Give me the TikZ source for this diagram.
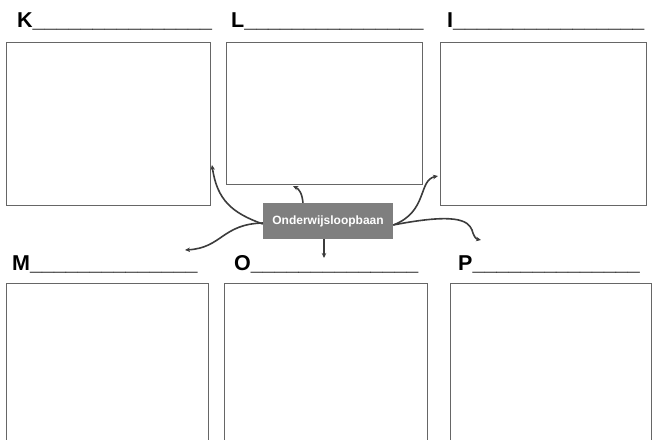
\documentclass[tikz,border=0pt]{standalone}
\usepackage{fontspec}
\setmainfont{Liberation Sans}
\usetikzlibrary{arrows.meta}

\definecolor{boxline}{HTML}{666666}
\definecolor{arrowline}{HTML}{3C3C3C}
\definecolor{centerfill}{HTML}{7F7F7F}

\begin{document}
\begin{tikzpicture}[
		x=1pt, y=-1pt
		,panel/.style={draw=boxline, line width=1.2pt, rectangle, anchor=north west, inner sep=0pt}
		,lbl/.style={anchor=base west, inner sep=0pt, font=\fontsize{21.5}{24}\selectfont\bfseries}
		,hub/.style={fill=centerfill, text=white, minimum width=130pt, minimum height=36pt, inner sep=0pt, font=\fontsize{12}{14}\selectfont\bfseries}
		,arr/.style={draw=arrowline, line width=1.6pt, -{Stealth[length=5pt, width=4.5pt]}}
	]
	\useasboundingbox (0,0) rectangle (652,439);
	\clip (0,0) rectangle (652,439);

	% top row
	\node [lbl] (klbl) at (17,27) {K\_\_\_\_\_\_\_\_\_\_\_\_\_\_\_};
	\node [lbl] (llbl) at (231,27) {L\_\_\_\_\_\_\_\_\_\_\_\_\_\_\_};
	\node [lbl] (ilbl) at (447,27) {I\_\_\_\_\_\_\_\_\_\_\_\_\_\_\_\_};
	\node [panel, minimum width=204pt, minimum height=163pt] (kbox) at (6,42) {};
	\node [panel, minimum width=196pt, minimum height=142pt] (lbox) at (226,42) {};
	\node [panel, minimum width=206pt, minimum height=163pt] (ibox) at (440,42) {};

	% bottom row
	\node [lbl] (mlbl) at (12,270) {M\_\_\_\_\_\_\_\_\_\_\_\_\_\_};
	\node [lbl] (olbl) at (234,270) {O\_\_\_\_\_\_\_\_\_\_\_\_\_\_};
	\node [lbl] (plbl) at (458,270) {P\_\_\_\_\_\_\_\_\_\_\_\_\_\_};
	\node [panel, minimum width=202pt, minimum height=170pt] (mbox) at (6,283) {};
	\node [panel, minimum width=203pt, minimum height=170pt] (obox) at (224,283) {};
	\node [panel, minimum width=201pt, minimum height=170pt] (pbox) at (450,283) {};

	% centre
	\node [hub] (hub) at (328,221) {Onderwijsloopbaan};

	\coordinate (kin) at (212,165);
	\coordinate (lin) at (293,186);
	\coordinate (iin) at (438,176);
	\coordinate (min) at (185,250);
	\coordinate (oin) at (324,258);
	\coordinate (pin) at (481,240);

	\draw [arr] ([yshift=-3pt]hub.west) .. controls (232,213) and (217,200) .. (kin);
	\draw [arr] ([xshift=-25pt]hub.north) .. controls (302,193) and (299,189) .. (lin);
	\draw [arr] ([yshift=-4pt]hub.east) .. controls (428,212) and (418,180) .. (iin);
	\draw [arr] ([yshift=-2pt]hub.west) .. controls (222,224) and (222,248) .. (min);
	\draw [arr] ([xshift=-4pt]hub.south) -- (oin);
	\draw [arr] ([yshift=-4pt]hub.east) .. controls (455,213) and (468,220) .. (472,230)
		.. controls (474,237) and (476,239) .. (pin);
\end{tikzpicture}
\end{document}
